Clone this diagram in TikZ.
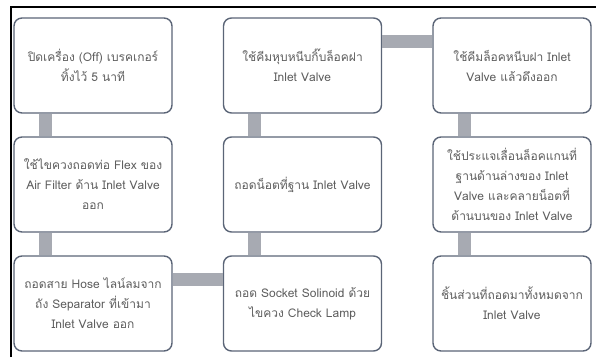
\documentclass[tikz,border=0pt]{standalone}
\usepackage{fontspec}
\setmainfont{Loma}[Script=Thai]
\usepackage{xcolor}
\usetikzlibrary{positioning, calc}

\definecolor{boxline}{HTML}{5B6577}
\definecolor{linkgray}{HTML}{A7AAB2}
\definecolor{textgray}{HTML}{5E5E5E}

\tikzset{
    stepbox/.style={draw=boxline, line width=1.4pt, fill=white, rounded corners=8pt,
        minimum width=158pt, minimum height=95pt, inner sep=0pt, align=center,
        text=textgray, font=\fontsize{12}{20}\selectfont},
    link/.style={draw=linkgray, line width=13pt}
}

\begin{document}
\begin{tikzpicture}[x=1pt, y=1pt]
\useasboundingbox (0,0) rectangle (596,357);
% Frame edges
\draw[line width=2pt] (11,0) -- (11,350) -- (596,350);
% First column
\node[stepbox] (a1) at (93,291.5) {ปิดเครื่อง (Off) เบรคเกอร์\\ทิ้งไว้ 5 นาที};
\node[stepbox] (a2) at (93,172.5) {ใช้ไขควงถอดท่อ Flex ของ\\Air Filter ด้าน Inlet Valve\\ออก};
\node[stepbox] (a3) at (93,53.5) {ถอดสาย Hose ไลน์ลมจาก\\ถัง Separator ที่เข้ามา\\Inlet Valve ออก};
% Second column
\node[stepbox] (b1) at (302.5,291.5) {ใช้คีมหุบหนีบกิ๊บล็อคฝา\\Inlet Valve};
\node[stepbox] (b2) at (302.5,172.5) {ถอดน็อตที่ฐาน Inlet Valve};
\node[stepbox] (b3) at (302.5,53.5) {ถอด Socket Solinoid ด้วย\\ไขควง Check Lamp};
% Third column
\node[stepbox] (c1) at (512,291.5) {ใช้คีมล็อคหนีบฝา Inlet\\Valve แล้วดึงออก};
\node[stepbox] (c2) at (512,172.5) {ใช้ประแจเลื่อนล็อคแกนที่\\ฐานด้านล่างของ Inlet\\Valve และคลายน็อตที่\\ด้านบนของ Inlet Valve};
\node[stepbox] (c3) at (512,53.5) {ชิ้นส่วนที่ถอดมาทั้งหมดจาก\\Inlet Valve};
% Vertical links
\foreach \col in {a,b,c} {
    \draw[link] ([xshift=32pt]\col1.south west) -- ([xshift=32pt]\col2.north west);
    \draw[link] ([xshift=32pt]\col2.south west) -- ([xshift=32pt]\col3.north west);
}
% Horizontal links
\draw[link] ([yshift=-24pt]a3.north east) -- ([yshift=-24pt]b3.north west);
\draw[link] ([yshift=-24pt]b1.north east) -- ([yshift=-24pt]c1.north west);
\end{tikzpicture}
\end{document}
